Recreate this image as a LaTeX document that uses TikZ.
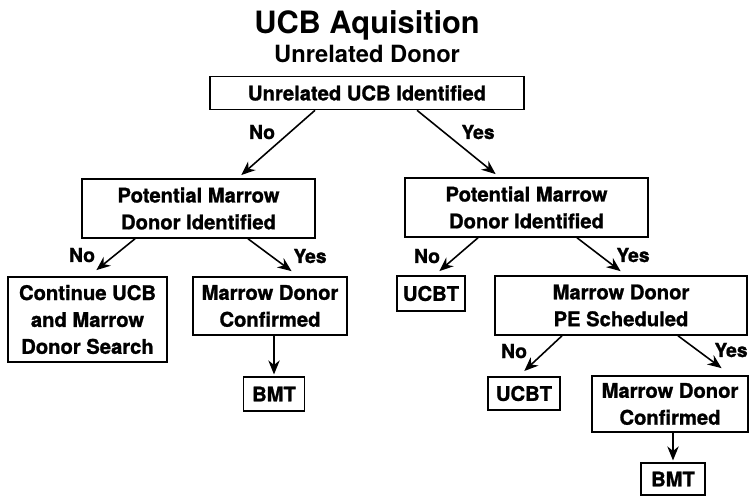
\documentclass[tikz,border=0pt]{standalone}
\usepackage{fontspec}
\setmainfont{TeX Gyre Heros}
\newfontfamily\heavyfont{TeX Gyre Heros}[FakeBold=1.2]
\usetikzlibrary{calc,arrows.meta}

\begin{document}
\begin{tikzpicture} [x=0.02cm, y=-0.02cm, >={Stealth[length=8pt,width=6.5pt]}, block/.style={rectangle, draw, line width=0.9pt, align=center, inner sep=0pt, font=\heavyfont\bfseries\fontsize{11.5}{15.3}\selectfont}, answer/.style={anchor=base, font=\heavyfont\bfseries\fontsize{11}{13}\selectfont}, edge/.style={->, line width=0.9pt, shorten >=1pt}]
  \useasboundingbox (0,0) rectangle (750,496);
  %% Titles
  \node [anchor=base, font=\bfseries\fontsize{17.5}{20}\selectfont] (title) at (367,34) {UCB Aquisition};
  \node [anchor=base, font=\bfseries\fontsize{13.5}{16}\selectfont] (subtitle) at (367,63) {Unrelated Donor};
  %% Boxes
  \node [block, minimum width=6.28cm, minimum height=0.66cm] (ucb) at (367,93) {Unrelated UCB Identified};
  \node [block, minimum width=4.66cm, minimum height=1.18cm] (pmdl) at (198.5,208.5) {Potential Marrow\\Donor Identified};
  \node [block, minimum width=4.86cm, minimum height=1.18cm] (pmdr) at (526.5,207.5) {Potential Marrow\\Donor Identified};
  \node [block, minimum width=3.18cm, minimum height=1.70cm] (search) at (87.5,319.5) {Continue UCB\\and Marrow\\Donor Search};
  \node [block, minimum width=3.08cm, minimum height=1.16cm] (mdcl) at (270,306) {Marrow Donor\\Confirmed};
  \node [block, minimum width=1.22cm, minimum height=0.68cm] (bmtl) at (274,394) {BMT};
  \node [block, minimum width=1.36cm, minimum height=0.70cm] (ucbta) at (431,293.5) {UCBT};
  \node [block, minimum width=5.04cm, minimum height=1.18cm] (pe) at (621,305.5) {Marrow Donor\\PE Scheduled};
  \node [block, minimum width=1.44cm, minimum height=0.66cm] (ucbtb) at (524,393.5) {UCBT};
  \node [block, minimum width=3.12cm, minimum height=1.12cm] (mdcr) at (670,404) {Marrow Donor\\Confirmed};
  \node [block, minimum width=1.28cm, minimum height=0.64cm] (bmtr) at (673,479) {BMT};
  % Draw edges
  \draw [edge] ($(ucb.south)+(-52,0)$) -- ($(pmdl.north)+(41.5,-2)$);
  \draw [edge] ($(ucb.south)+(50,0)$) -- ($(pmdr.north)+(-29.5,-2)$);
  \draw [edge] ($(pmdl.south)+(-63.5,0)$) -- ($(search.north)+(7.5,-5)$);
  \draw [edge] ($(pmdl.south)+(49.5,0)$) -- ($(mdcl.north)+(23,-4)$);
  \draw [edge] ($(pmdr.south)+(-48.5,0)$) -- ($(ucbta.north)+(7,-3)$);
  \draw [edge] ($(pmdr.south)+(50.5,0)$) -- ($(pe.north)+(1,-3)$);
  \draw [edge] ($(pe.south)+(-59,0)$) -- ($(ucbtb.north)+(-1,-4)$);
  \draw [edge] ($(pe.south)+(57,0)$) -- ($(mdcr.north)+(53,-6)$);
  \draw [edge] (mdcl.south -| bmtl.north) -- (bmtl.north);
  \draw [edge] (mdcr.south -| bmtr.north) -- (bmtr.north);
  % Answers
  \node [answer] (no1) at (262,139) {No};
  \node [answer] (yes1) at (478,139) {Yes};
  \node [answer] (no2) at (82,262) {No};
  \node [answer] (yes2) at (310,263) {Yes};
  \node [answer] (no3) at (427,263) {No};
  \node [answer] (yes3) at (633,262) {Yes};
  \node [answer] (no4) at (514,358) {No};
  \node [answer] (yes4) at (731,357) {Yes};
\end{tikzpicture}
\end{document}
